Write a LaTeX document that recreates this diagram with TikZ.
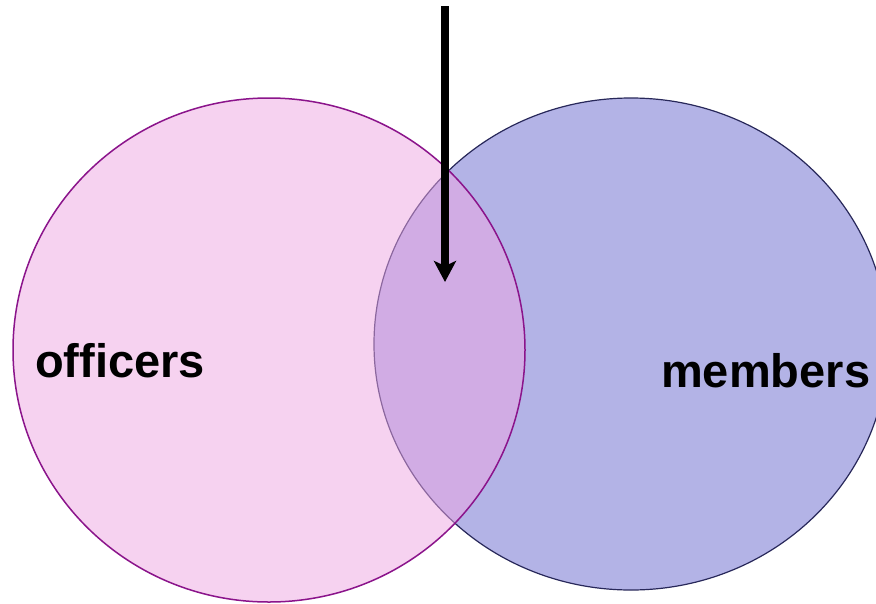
\documentclass[tikz,border=0pt]{standalone}
\usepackage{fontspec}
\setmainfont{Liberation Sans}
\usetikzlibrary{arrows.meta}
\definecolor{pinkfill}{RGB}{239,167,227}
\definecolor{pinkline}{RGB}{139,20,139}
\definecolor{bluefill}{RGB}{179,179,230}
\definecolor{blueline}{RGB}{40,40,90}
\tikzset{
  setlabel/.style={font=\fontsize{47}{47}\selectfont\bfseries, inner sep=0pt, anchor=base west},
  pointer/.style={line width=8pt, -{Stealth[length=21pt,width=22pt,inset=5pt]}}
}
\begin{document}
\begin{tikzpicture}[x=1pt,y=-1pt]
\useasboundingbox (0,0) rectangle (876,603);
\fill[white] (0,0) rectangle (876,603);
\draw[blueline, fill=bluefill, line width=1.2pt] (631,344) ellipse [x radius=257, y radius=246];
\draw[pinkline, fill=pinkfill, fill opacity=0.5, line width=1.5pt] (269,350) ellipse [x radius=256, y radius=252];
\node[setlabel] (officers) at (35,377) {officers};
\node[setlabel] (members) at (661,387) {members};
\coordinate (top) at (445,6);
\coordinate (tip) at (445,282);
\draw[pointer] (top) -- (tip);
\end{tikzpicture}
\end{document}
